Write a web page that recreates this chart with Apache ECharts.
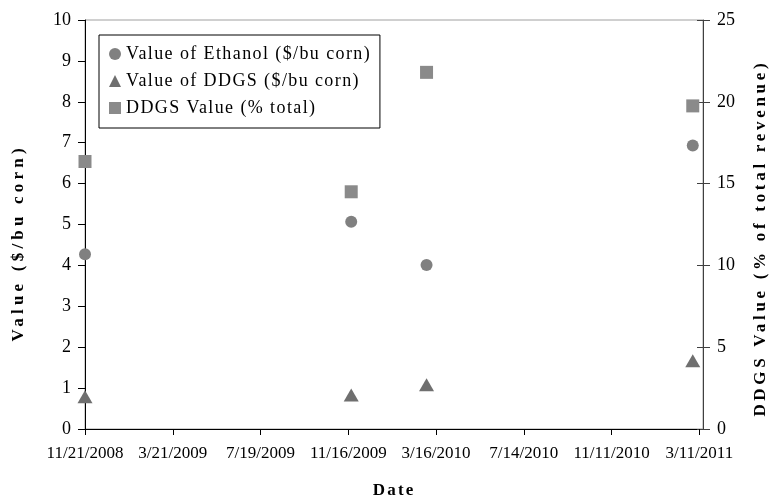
<!DOCTYPE html>
<html><head><meta charset="utf-8">
<script src="https://cdn.jsdelivr.net/npm/echarts@6/dist/echarts.min.js"></script>
<style>html,body{margin:0;padding:0;background:#fff}#c{width:773px;height:501px}</style>
</head><body><div id="c"></div>
<script>
var dates = ['2008-11-21', '2009-11-20', '2010-03-03', '2011-03-02'];
var ethanolValue = [4.27, 5.07, 4.01, 6.93];
var ddgsValue = [0.79, 0.83, 1.08, 1.67];
var ddgsPct = [16.35, 14.5, 21.8, 19.75];
var xStart = '2008-11-21';
var xTickDays = 120;
var xMaxDays = 845;
var seriesNames = ['Value of Ethanol ($/bu corn)', 'Value of DDGS ($/bu corn)', 'DDGS Value (% total)'];
var xTitle = 'Date';
var yLeftTitle = 'Value ($/bu corn)';
var yRightTitle = 'DDGS Value (% of total revenue)';

// letter spacing (the reference text is spread out)
var spacing = {};
spacing[seriesNames[0]] = 1.4; spacing[seriesNames[1]] = 1.4; spacing[seriesNames[2]] = 1.4;
spacing[xTitle] = 2.2; spacing[yLeftTitle] = 4.2; spacing[yRightTitle] = 3.7;
(function(){
  var P = CanvasRenderingContext2D.prototype, orig = P.fillText;
  P.fillText = function(t, x, y, m){
    var sp = spacing[t] || 0;
    if ('letterSpacing' in this) {
      var f = this.font;
      this.letterSpacing = sp + 'px';
      this.font = f;
      if (sp && this.textAlign === 'center') x += sp / 2;
    }
    if (m === undefined) orig.call(this, t, x, y); else orig.call(this, t, x, y, m);
    if ('letterSpacing' in this) {
      var f2 = this.font;
      this.letterSpacing = '0px';
      this.font = f2;
    }
  };
})();

function dayNum(s){var p=s.split('-');return Date.UTC(+p[0],+p[1]-1,+p[2])/86400000;}
var d0 = dayNum(xStart);
function fmt(v){var d=new Date((d0+v)*86400000);return (d.getUTCMonth()+1)+'/'+d.getUTCDate()+'/'+d.getUTCFullYear();}
var xs = dates.map(function(s){return dayNum(s)-d0;});
function pairs(arr){return xs.map(function(x,i){return [x,arr[i]];});}

var font = 'Liberation Serif';
var titleFont = 'bold 17px "Liberation Serif"';
var chart = echarts.init(document.getElementById('c'));
chart.setOption({
  animation:false,
  grid:{left:85,right:70,top:20,bottom:72,show:true,borderColor:'#a0a0a0',borderWidth:1,containLabel:false},
  legend:{
    orient:'vertical', left:99, top:35, padding:[10,48,11,10],
    borderColor:'#000', borderWidth:1, itemGap:9, itemWidth:12, itemHeight:12,
    textStyle:{fontFamily:font,fontSize:18,color:'#000'},
    data:[{name:seriesNames[0],icon:'circle'},{name:seriesNames[1],icon:'triangle'},{name:seriesNames[2],icon:'rect'}]
  },
  graphic:[
    {type:'text', x:393, y:491, style:{text:xTitle, font:titleFont, fill:'#000', align:'center', verticalAlign:'middle'}},
    {type:'text', x:19, y:245, rotation:Math.PI/2, style:{text:yLeftTitle, font:titleFont, fill:'#000', align:'center', verticalAlign:'middle'}},
    {type:'text', x:761, y:240, rotation:Math.PI/2, style:{text:yRightTitle, font:titleFont, fill:'#000', align:'center', verticalAlign:'middle'}}
  ],
  xAxis:{
    type:'value', min:0, max:xMaxDays, interval:xTickDays,
    axisLine:{lineStyle:{color:'#000',width:1}},
    axisTick:{show:true,length:6,lineStyle:{color:'#000'}},
    splitLine:{show:false},
    axisLabel:{fontFamily:font,fontSize:17,color:'#000',margin:16,showMaxLabel:false,
      formatter:function(v){return v%xTickDays===0?fmt(v):'';}}
  },
  yAxis:[{
    type:'value', min:0, max:10, interval:1, position:'left',
    axisLine:{show:true,lineStyle:{color:'#000'}},
    axisTick:{show:true,length:7,lineStyle:{color:'#000'}},
    splitLine:{show:false},
    axisLabel:{fontFamily:font,fontSize:18,color:'#000',margin:14}
  },{
    type:'value', min:0, max:25, interval:5, position:'right',
    axisLine:{show:true,lineStyle:{color:'#404040'}},
    axisTick:{show:true,length:7,lineStyle:{color:'#404040'}},
    splitLine:{show:false},
    axisLabel:{fontFamily:font,fontSize:18,color:'#000',margin:14}
  },{
    type:'value', min:0, max:25, interval:5, position:'right',
    axisLine:{show:false},
    axisTick:{show:true,inside:true,length:6,lineStyle:{color:'#404040'}},
    splitLine:{show:false}, axisLabel:{show:false}
  }],
  series:[
    {name:seriesNames[0],type:'scatter',yAxisIndex:0,symbol:'circle',symbolSize:12,
     itemStyle:{color:'#808080',opacity:1},data:pairs(ethanolValue)},
    {name:seriesNames[1],type:'scatter',yAxisIndex:0,symbol:'triangle',symbolSize:[15,13],
     itemStyle:{color:'#6f6f6f',opacity:1},data:pairs(ddgsValue)},
    {name:seriesNames[2],type:'scatter',yAxisIndex:1,symbol:'rect',symbolSize:13,
     itemStyle:{color:'#8a8a8a',opacity:1},data:pairs(ddgsPct)}
  ]
});
</script></body></html>
